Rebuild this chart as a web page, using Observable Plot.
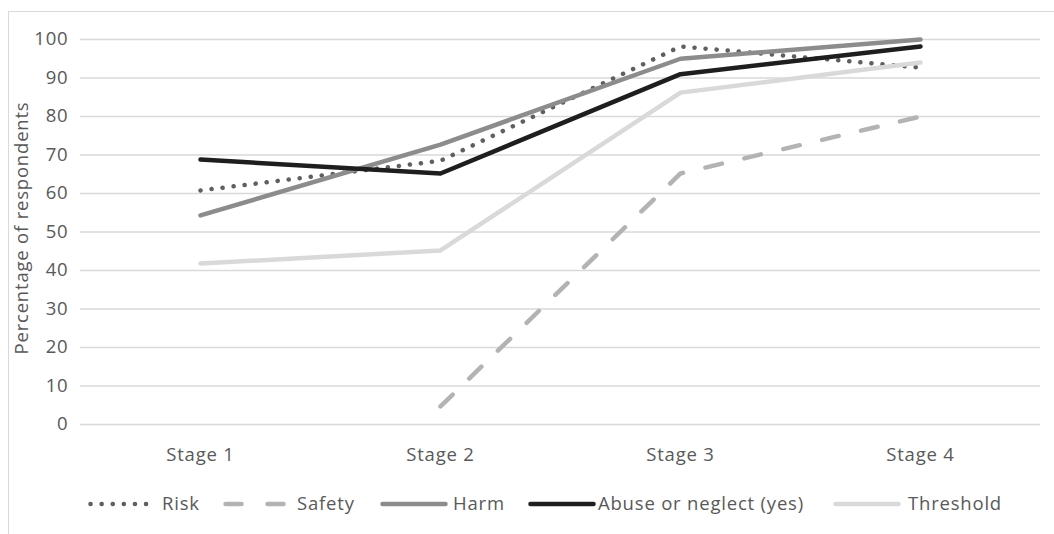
<!DOCTYPE html>
<html>
<head>
<meta charset="utf-8">
<script src="https://cdn.jsdelivr.net/npm/d3@7"></script>
<script src="https://cdn.jsdelivr.net/npm/@observablehq/plot@0.6"></script>
<style>
  html, body { margin: 0; padding: 0; background: #fff; }
  body { width: 1054px; height: 534px; position: relative; overflow: hidden; font-family: "Open Sans", sans-serif; }
  #frame { position: absolute; left: 8px; top: 11px; width: 1100px; height: 600px; border: 1.5px solid #d9d9d9; box-sizing: border-box; }
  #chart { position: absolute; left: 0; top: 0; }
  #chart text { letter-spacing: 0.8px; }
  #legend { position: absolute; left: 0; top: 490px; width: 1054px; height: 28px; font-size: 18.5px; letter-spacing: 0.8px; color: #595959; white-space: nowrap; }
  #legend svg, #legend span { position: absolute; }
  #legend svg { top: 9px; }
  #legend span { top: 0; line-height: 26px; }
</style>
</head>
<body>
<div id="frame"></div>
<div id="chart"></div>
<div id="legend"></div>
<script>
const stages = ["Stage 1", "Stage 2", "Stage 3", "Stage 4"];
const seriesNames = ["Risk", "Safety", "Harm", "Abuse or neglect (yes)", "Threshold"];
const risk = [60.8, 68.5, 98.2, 92.7];
const safety = [null, 4.7, 65.2, 80.0];
const harm = [54.3, 72.7, 95.0, 100.0];
const abuse = [68.8, 65.2, 91.0, 98.2];
const threshold = [41.8, 45.2, 86.2, 94.0];
const yTicks = [0, 10, 20, 30, 40, 50, 60, 70, 80, 90, 100];
const yLabel = "Percentage of respondents";

const seriesValues = [risk, safety, harm, abuse, threshold];
const styles = {
  "Risk": {stroke: "#5f5f5f", dash: "0.1 11"},
  "Safety": {stroke: "#b3b3b3", dash: "17 23"},
  "Harm": {stroke: "#8c8c8c", dash: null},
  "Abuse or neglect (yes)": {stroke: "#1e1e1e", dash: null},
  "Threshold": {stroke: "#d9d9d9", dash: null}
};
// legend layout: [sample left, sample width, text left]
const legendLayout = {
  "Risk": [88, 63, 162],
  "Safety": [223, 64, 297],
  "Harm": [380, 68, 453],
  "Abuse or neglect (yes)": [528, 68, 598],
  "Threshold": [833, 68, 908]
};

const rows = [];
seriesNames.forEach((s, i) => {
  stages.forEach((st, j) => {
    const v = seriesValues[i][j];
    if (v != null) rows.push({series: s, stage: st, value: v});
  });
});

const lineMarks = seriesNames.map(s => Plot.line(rows.filter(d => d.series === s), {
  x: "stage", y: "value",
  stroke: styles[s].stroke, strokeWidth: 4.5,
  strokeDasharray: styles[s].dash || undefined,
  strokeLinecap: "round", strokeLinejoin: "round"
}));

const plot = Plot.plot({
  width: 1054,
  height: 470,
  marginTop: 39,
  marginBottom: 46,
  marginLeft: 80,
  marginRight: 14,
  style: {background: "transparent", fontFamily: "Open Sans, sans-serif", fontSize: "18.5px", color: "#595959"},
  x: {type: "point", domain: stages, padding: 0.5},
  y: {domain: [0, 100]},
  marks: [
    Plot.gridY(yTicks, {stroke: "#d9d9d9", strokeOpacity: 1, strokeWidth: 1.5}),
    Plot.axisY(yTicks, {tickSize: 0, tickPadding: 12, label: null, fill: "#595959", fontSize: 18.5}),
    Plot.axisX({tickSize: 0, tickPadding: 23, label: null, fill: "#595959", fontSize: 18.5}),
    Plot.text([yLabel], {frameAnchor: "left", dx: -58, dy: -4, rotate: -90, fill: "#595959", fontSize: 18.5, textAnchor: "middle"}),
    ...lineMarks
  ]
});
document.getElementById("chart").appendChild(plot);

const legend = document.getElementById("legend");
seriesNames.forEach(s => {
  const [sx, sw, tx] = legendLayout[s];
  const dash = styles[s].dash ? `stroke-dasharray="${s === "Safety" ? "16 26" : styles[s].dash}"` : "";
  const svg = `<svg style="left:${sx - 2}px" width="${sw + 4}" height="10"><line x1="4.5" x2="${sw - 0.5}" y1="5" y2="5" stroke="${styles[s].stroke}" stroke-width="4.5" stroke-linecap="round" ${dash}/></svg>`;
  legend.insertAdjacentHTML("beforeend", svg + `<span style="left:${tx}px">${s}</span>`);
});
</script>
</body>
</html>
